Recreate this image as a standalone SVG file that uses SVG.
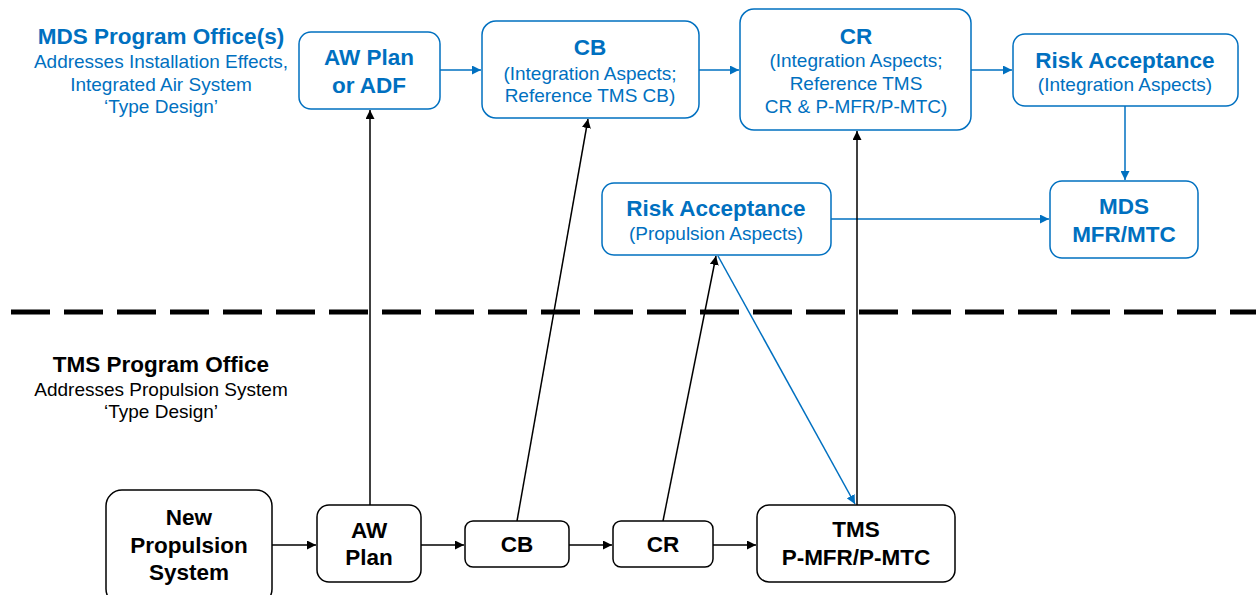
<svg xmlns="http://www.w3.org/2000/svg" width="1256" height="595" viewBox="0 0 1256 595">
<style>
text{font-family:"Liberation Sans",Arial,sans-serif;text-anchor:middle}
.b{font-weight:bold;font-size:22.5px}
.s{font-size:19px}
.blue{fill:#0070C0}
.k{fill:#000}
.bbox{fill:#fff;stroke:#0070C0;stroke-width:1.5}
.kbox{fill:#fff;stroke:#000;stroke-width:1.5}
.bl{stroke:#0070C0;stroke-width:1.5;fill:none}
.kl{stroke:#000;stroke-width:1.5;fill:none}
</style>
<defs>
<marker id="ab" viewBox="0 0 10 10" refX="10" refY="5" markerWidth="9" markerHeight="9" orient="auto" markerUnits="userSpaceOnUse"><path d="M0,0L10,5L0,10z" fill="#0070C0"/></marker>
<marker id="ak" viewBox="0 0 10 10" refX="10" refY="5" markerWidth="9" markerHeight="9" orient="auto" markerUnits="userSpaceOnUse"><path d="M0,0L10,5L0,10z" fill="#000"/></marker>
</defs>
<rect width="1256" height="595" fill="#fff"/>
<line x1="11" y1="312" x2="1256" y2="312" stroke="#000" stroke-width="5" stroke-dasharray="39 14"/>
<g id="mds-label">
<text x="161" y="44" class="b blue">MDS Program Office(s)</text>
<text x="161" y="68" class="s blue">Addresses Installation Effects,</text>
<text x="161" y="91" class="s blue">Integrated Air System</text>
<text x="161" y="113" class="s blue">‘Type Design’</text>
</g>
<g id="tms-label">
<text x="161" y="372" class="b k">TMS Program Office</text>
<text x="161" y="396" class="s k">Addresses Propulsion System</text>
<text x="161" y="418" class="s k">‘Type Design’</text>
</g>
<g id="connectors">
<line class="bl" x1="440" y1="70" x2="481" y2="70" marker-end="url(#ab)"/>
<line class="bl" x1="699" y1="70" x2="739" y2="70" marker-end="url(#ab)"/>
<line class="bl" x1="971" y1="70" x2="1012" y2="70" marker-end="url(#ab)"/>
<line class="bl" x1="1125" y1="106" x2="1125" y2="180" marker-end="url(#ab)"/>
<line class="bl" x1="831" y1="219" x2="1049" y2="219" marker-end="url(#ab)"/>
<line class="bl" x1="718" y1="256" x2="855" y2="504" marker-end="url(#ab)"/>
<line class="kl" x1="272" y1="545" x2="316" y2="545" marker-end="url(#ak)"/>
<line class="kl" x1="421" y1="545" x2="464" y2="545" marker-end="url(#ak)"/>
<line class="kl" x1="569" y1="545" x2="612" y2="545" marker-end="url(#ak)"/>
<line class="kl" x1="713" y1="545" x2="756" y2="545" marker-end="url(#ak)"/>
<line class="kl" x1="370" y1="505" x2="370" y2="110" marker-end="url(#ak)"/>
<line class="kl" x1="517" y1="521" x2="588" y2="119" marker-end="url(#ak)"/>
<line class="kl" x1="663" y1="521" x2="716" y2="256" marker-end="url(#ak)"/>
<line class="kl" x1="857" y1="505" x2="857" y2="131" marker-end="url(#ak)"/>
</g>
<g id="aw-plan-adf">
<rect class="bbox" x="299" y="32" width="141" height="77" rx="12"/>
<text x="369" y="65" class="b blue">AW Plan</text>
<text x="369" y="93" class="b blue">or ADF</text>
</g>
<g id="cb-top">
<rect class="bbox" x="482" y="21" width="217" height="97" rx="14"/>
<text x="590" y="55" class="b blue">CB</text>
<text x="590" y="80" class="s blue">(Integration Aspects;</text>
<text x="590" y="102" class="s blue">Reference TMS CB)</text>
</g>
<g id="cr-top">
<rect class="bbox" x="740" y="9" width="231" height="121" rx="14"/>
<text x="856" y="44" class="b blue">CR</text>
<text x="856" y="67" class="s blue">(Integration Aspects;</text>
<text x="856" y="90" class="s blue">Reference TMS</text>
<text x="856" y="113" class="s blue">CR &amp; P-MFR/P-MTC)</text>
</g>
<g id="risk-integration">
<rect class="bbox" x="1013" y="34" width="225" height="72" rx="12"/>
<text x="1125" y="68" class="b blue">Risk Acceptance</text>
<text x="1125" y="91" class="s blue">(Integration Aspects)</text>
</g>
<g id="risk-propulsion">
<rect class="bbox" x="602" y="183" width="229" height="72" rx="12"/>
<text x="716" y="216" class="b blue">Risk Acceptance</text>
<text x="716" y="240" class="s blue">(Propulsion Aspects)</text>
</g>
<g id="mds-mfr">
<rect class="bbox" x="1050" y="181" width="148" height="77" rx="12"/>
<text x="1124" y="214" class="b blue">MDS</text>
<text x="1124" y="242" class="b blue">MFR/MTC</text>
</g>
<g id="new-propulsion">
<rect class="kbox" x="106" y="490" width="166" height="115" rx="16"/>
<text x="189" y="525" class="b k">New</text>
<text x="189" y="553" class="b k">Propulsion</text>
<text x="189" y="580" class="b k">System</text>
</g>
<g id="aw-plan">
<rect class="kbox" x="317" y="505" width="104" height="77" rx="12"/>
<text x="369" y="538" class="b k">AW</text>
<text x="369" y="565" class="b k">Plan</text>
</g>
<g id="cb">
<rect class="kbox" x="465" y="521" width="104" height="46" rx="8"/>
<text x="517" y="552" class="b k">CB</text>
</g>
<g id="cr">
<rect class="kbox" x="613" y="521" width="100" height="46" rx="8"/>
<text x="663" y="552" class="b k">CR</text>
</g>
<g id="tms-mfr">
<rect class="kbox" x="757" y="505" width="198" height="77" rx="12"/>
<text x="856" y="537" class="b k">TMS</text>
<text x="856" y="565" class="b k">P-MFR/P-MTC</text>
</g>
</svg>
